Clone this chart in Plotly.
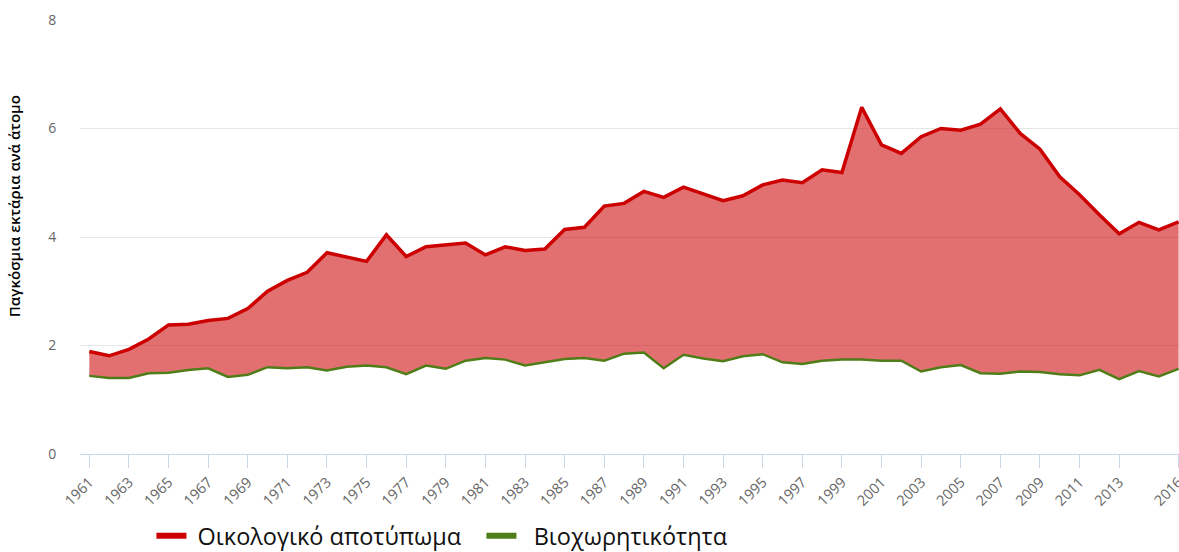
import plotly.graph_objects as go

years = list(range(1961, 2017))

# Ecological footprint (global hectares per person)
footprint = [1.89, 1.81, 1.93, 2.12, 2.38, 2.39, 2.46, 2.50, 2.68, 3.00,
             3.20, 3.35, 3.71, 3.63, 3.55, 4.04, 3.64, 3.82, 3.86, 3.89,
             3.67, 3.82, 3.75, 3.78, 4.14, 4.18, 4.57, 4.62, 4.84, 4.73,
             4.92, 4.80, 4.67, 4.76, 4.96, 5.05, 5.00, 5.24, 5.19, 6.39,
             5.70, 5.54, 5.85, 6.00, 5.97, 6.08, 6.36, 5.91, 5.62, 5.11,
             4.78, 4.41, 4.06, 4.27, 4.13, 4.28]

# Biocapacity (global hectares per person)
biocapacity = [1.44, 1.40, 1.40, 1.49, 1.50, 1.55, 1.58, 1.42, 1.46, 1.60,
               1.58, 1.60, 1.54, 1.61, 1.63, 1.60, 1.47, 1.63, 1.57, 1.72,
               1.77, 1.74, 1.63, 1.69, 1.75, 1.77, 1.72, 1.85, 1.87, 1.58,
               1.83, 1.76, 1.71, 1.80, 1.84, 1.69, 1.66, 1.72, 1.74, 1.74,
               1.72, 1.72, 1.52, 1.60, 1.64, 1.49, 1.48, 1.52, 1.51, 1.47,
               1.45, 1.55, 1.38, 1.53, 1.43, 1.57]

x_ticks = list(range(1961, 2014, 2)) + [2016]
y_ticks = [0, 2, 4, 6, 8]

RED = "#cc0000"
GREEN = "#4f7d18"

fig = go.Figure()

# Data series (legend entries are drawn by the data-free traces below)
fig.add_trace(go.Scatter(
    x=years, y=biocapacity, name="Βιοχωρητικότητα",
    mode="lines", line=dict(color=GREEN, width=2.5),
    showlegend=False,
))
fig.add_trace(go.Scatter(
    x=years, y=footprint, name="Οικολογικό αποτύπωμα",
    mode="lines", line=dict(color=RED, width=3.5),
    fill="tonexty", fillcolor="rgba(204,0,0,0.56)",
    showlegend=False,
))

# Legend keys with thick line swatches
fig.add_trace(go.Scatter(
    x=[None], y=[None], name=" Οικολογικό αποτύπωμα",
    mode="lines", line=dict(color=RED, width=6),
))
fig.add_trace(go.Scatter(
    x=[None], y=[None], name="  Βιοχωρητικότητα",
    mode="lines", line=dict(color=GREEN, width=6),
))

fig.update_layout(
    width=1179, height=552,
    margin=dict(l=80, r=0, t=20, b=98, autoexpand=False),
    paper_bgcolor="white", plot_bgcolor="white",
    font=dict(family="Open Sans, sans-serif"),
    showlegend=True,
    legend=dict(
        orientation="h", x=0.065, xanchor="left",
        yref="container", y=0.029, yanchor="middle",
        font=dict(size=23.5, color="#111111"),
        traceorder="normal",
        entrywidth=285, entrywidthmode="pixels",
    ),
    xaxis=dict(
        range=[1960.53, 2016.02],
        tickvals=x_ticks, ticktext=[str(v) for v in x_ticks],
        tickangle=-45, tickfont=dict(size=14.5, color="#666666"),
        ticklabeloverflow="allow", automargin=False,
        showgrid=False, zeroline=False,
        showline=True, linecolor="#ccd6eb", linewidth=1,
        ticks="outside", ticklen=13, tickcolor="#ccd6eb",
    ),
    yaxis=dict(
        range=[0, 8], tickvals=y_ticks, automargin=False,
        tickfont=dict(size=14, color="#666666"),
        showgrid=True, gridcolor="#e6e6e6", gridwidth=1,
        zeroline=False, showline=False,
        ticks="outside", ticklen=20, tickcolor="rgba(0,0,0,0)",
        layer="above traces",
    ),
    annotations=[dict(
        text="Παγκόσμια εκτάρια ανά άτομο",
        xref="paper", yref="paper", x=0, y=0.571,
        xanchor="center", yanchor="middle", xshift=-66,
        textangle=-90, showarrow=False,
        font=dict(size=15, color="#000000", weight=600),
    )],
)

fig.write_html("out.html")
